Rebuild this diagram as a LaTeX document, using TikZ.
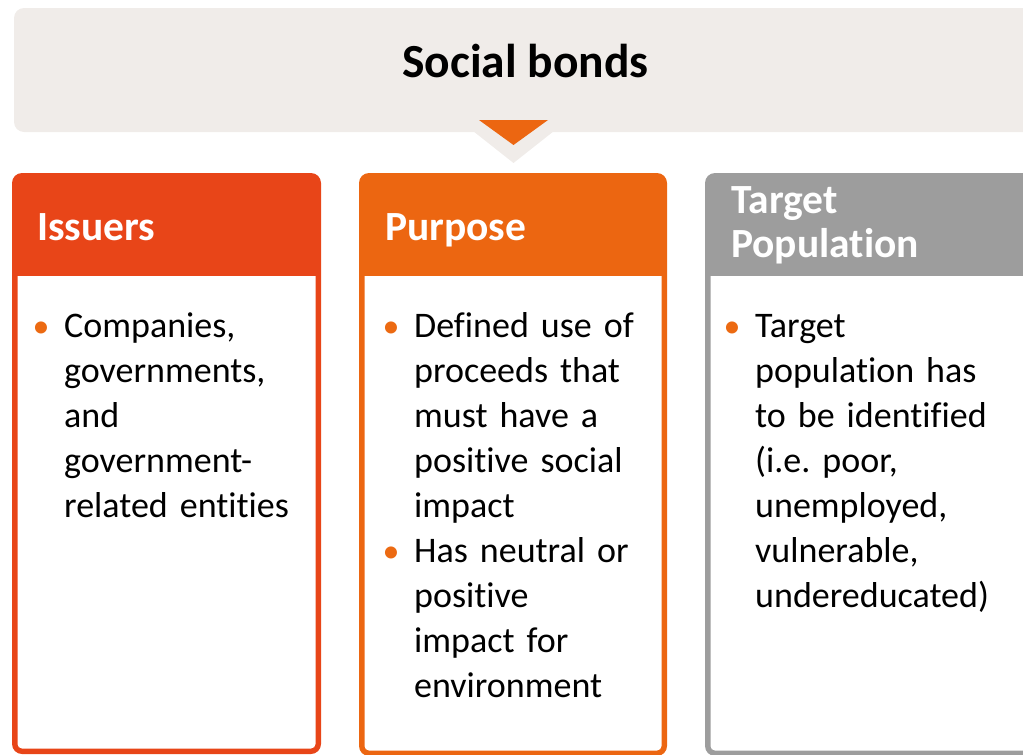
\documentclass[tikz,border=0pt]{standalone}
\usepackage{fontspec}
\setmainfont{Carlito}[Ligatures=NoCommon]
\frenchspacing
\definecolor{bannerC}{HTML}{F0ECE9}
\definecolor{issuersC}{HTML}{E84518}
\definecolor{purposeC}{HTML}{EC6611}
\definecolor{targetC}{HTML}{9D9D9D}
\definecolor{bulletC}{HTML}{EC6A12}
\begin{document}
\begin{tikzpicture}[x=1pt,y=-1pt,
  hdr/.style={anchor=base west, text=white, inner sep=0pt,
    font=\fontsize{41.5}{44}\selectfont\bfseries, text width=300pt, align=left},
  bodytext/.style={anchor=base west, inner sep=0pt, text width=300pt, align=left,
    font=\fontsize{36}{45}\selectfont},
  bul/.style={anchor=base, inner sep=0pt, text=bulletC,
    font=\fontsize{34}{45}\selectfont}]
\useasboundingbox (0,0) rectangle (1023,755);
\clip (0,0) rectangle (1023,755);

% title banner with its chevron
\fill[bannerC, rounded corners=10pt] (14,8) rectangle (1060,132);
\fill[bannerC] (473,131) -- (554,131) -- (513.5,163) -- cycle;
\fill[purposeC] (479,120) -- (548,120) -- (513.5,145) -- cycle;
\node[inner sep=0pt, anchor=base, font=\fontsize{47.5}{52}\selectfont\bfseries]
  (title) at (525.5,77) {Social bonds};

% three cards: coloured frame and header, white body
\newcommand{\card}[4]{%
  \fill[#1, rounded corners=10pt] (#2,173) rectangle (#3,#4);
  \fill[white] (#2+5.5,276) [rounded corners=4.5pt] -- (#2+5.5,#4-5.5)
     -- (#3-5.5,#4-5.5) [sharp corners] -- (#3-5.5,276) -- cycle;}
\card{issuersC}{12}{321}{754}
\card{purposeC}{359}{667}{756}
\card{targetC}{705}{1060}{756}

% headers
\node[hdr] (hIssuers) at (37,240) {Issuers};
\node[hdr] (hPurpose) at (385,240) {Purpose};
\node[hdr] (hTarget) at (731,213) {Target\\Population};

% bullets and body text
\node[bul] (b1) at (41,337) {•};
\node[bodytext] (t1) at (64,337)
  {Companies,\\governments,\\and\\government-\\related entities};

\node[bul] (b2) at (391,337) {•};
\node[bodytext] (t2) at (414,337)
  {Defined use of\\proceeds that\\must have a\\positive social\\impact};
\node[bul] (b3) at (391,562) {•};
\node[bodytext] (t3) at (414,562)
  {Has neutral or\\positive\\impact for\\environment};

\node[bul] (b4) at (732,337) {•};
\node[bodytext] (t4) at (755,337)
  {Target\\population has\\to be identified\\(i.e. poor,\\unemployed,\\vulnerable,\\undereducated)};
\end{tikzpicture}
\end{document}
